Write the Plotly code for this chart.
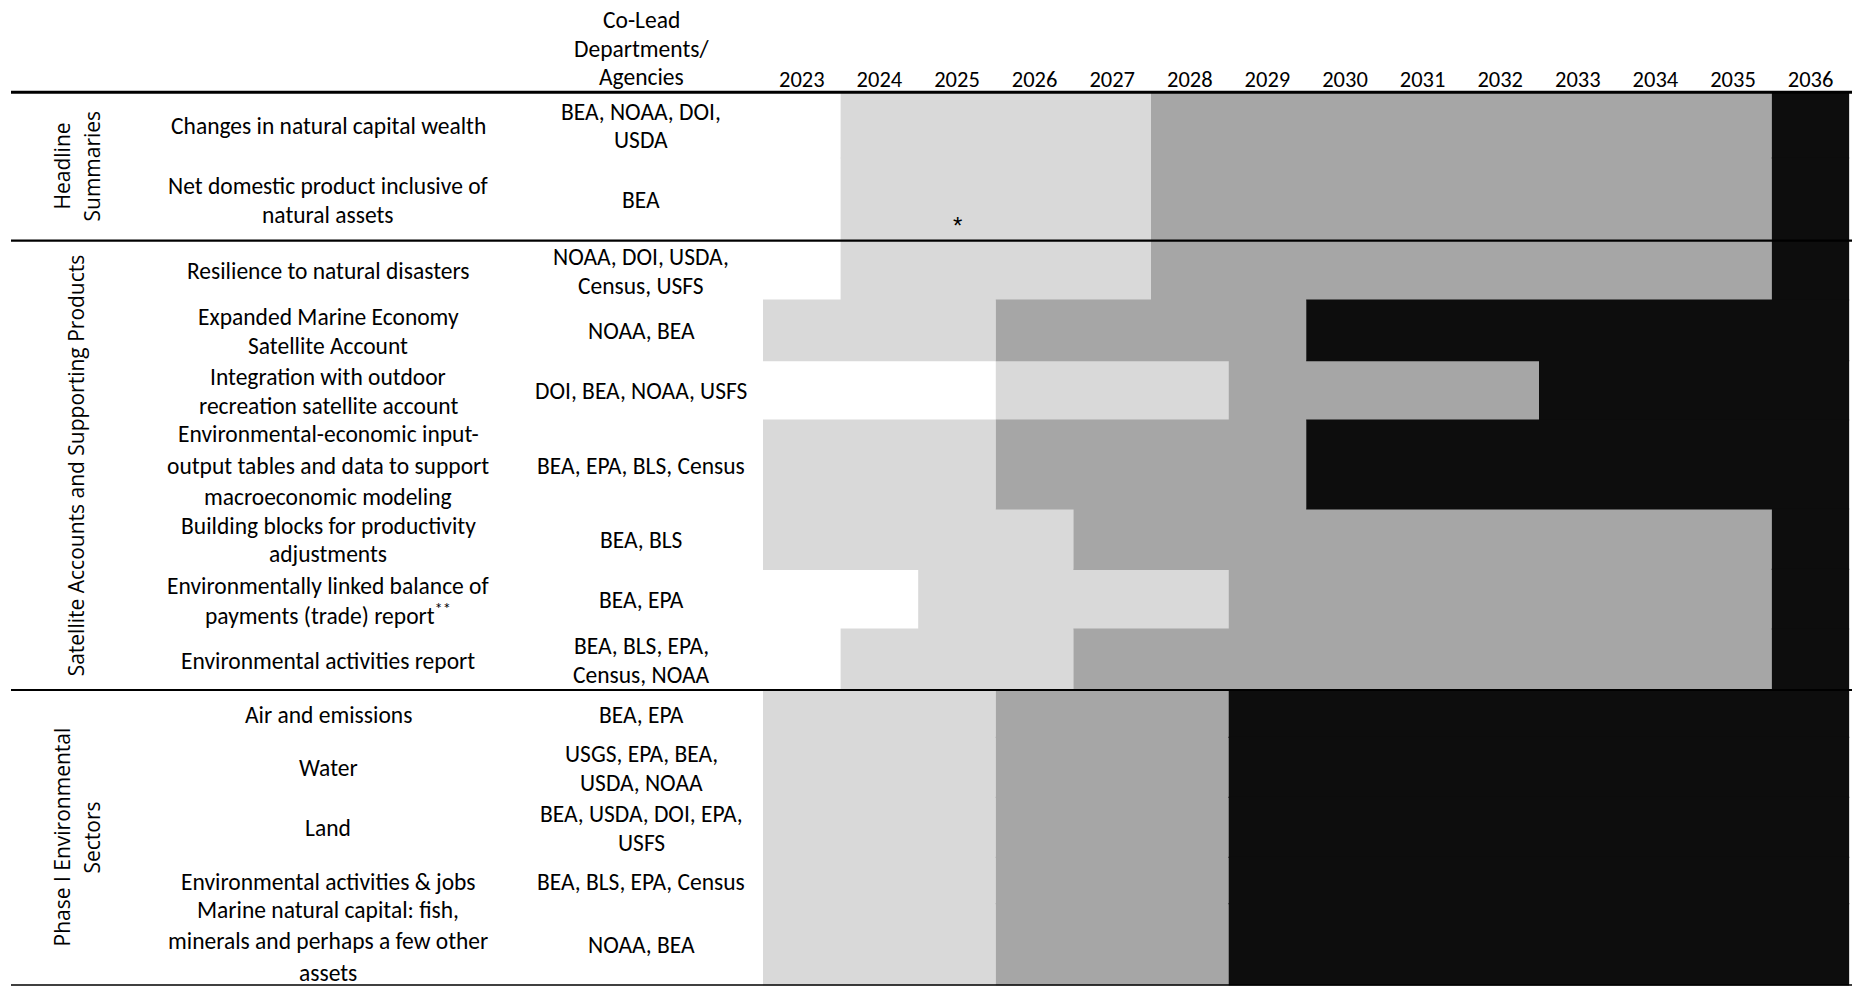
import plotly.graph_objects as go

# ---------------- data ----------------
years = list(range(2023, 2037))
year_labels = [str(y) for y in years]

sections = ["Headline<br>Summaries",
            "Satellite Accounts and Supporting Products",
            "Phase I Environmental<br>Sectors"]
section_rows = [[0, 1], [2, 3, 4, 5, 6, 7, 8], [9, 10, 11, 12, 13]]

items = [
    "Changes in natural capital wealth",
    "Net domestic product inclusive of<br>natural assets",
    "Resilience to natural disasters",
    "Expanded Marine Economy<br>Satellite Account",
    "Integration with outdoor<br>recreation satellite account",
    "Environmental-economic input-<br>output tables and data to support<br>macroeconomic modeling",
    "Building blocks for productivity<br>adjustments",
    "Environmentally linked balance of<br>payments (trade) report<sup>**</sup>",
    "Environmental activities report",
    "Air and emissions",
    "Water",
    "Land",
    "Environmental activities & jobs",
    "Marine natural capital: fish,<br>minerals and perhaps a few other<br>assets",
]
agencies = [
    "BEA, NOAA, DOI,<br>USDA",
    "BEA",
    "NOAA, DOI, USDA,<br>Census, USFS",
    "NOAA, BEA",
    "DOI, BEA, NOAA, USFS",
    "BEA, EPA, BLS, Census",
    "BEA, BLS",
    "BEA, EPA",
    "BEA, BLS, EPA,<br>Census, NOAA",
    "BEA, EPA",
    "USGS, EPA, BEA,<br>USDA, NOAA",
    "BEA, USDA, DOI, EPA,<br>USFS",
    "BEA, BLS, EPA, Census",
    "NOAA, BEA",
]
header_agency = "Co-Lead<br>Departments/<br>Agencies"

# first year of each phase per row (phase runs until the next phase starts)
light_start = [2024, 2024, 2024, 2023, 2026, 2023, 2023, 2025, 2024, 2023, 2023, 2023, 2023, 2023]
mid_start   = [2028, 2028, 2028, 2026, 2029, 2026, 2027, 2029, 2027, 2026, 2026, 2026, 2026, 2026]
dark_start  = [2036, 2036, 2036, 2030, 2033, 2030, 2036, 2036, 2036, 2029, 2029, 2029, 2029, 2029]
last_year = 2036
note_year = 2025   # asterisk note year (row 2)

# ---------------- layout constants ----------------
W, H = 1857, 986
X0, COLW = 763.0, 77.6
row_bounds = [92.3, 158, 240.7, 300, 360.7, 420, 509, 569.3, 629, 690,
              737.3, 797.3, 857.3, 903.7, 985]
LIGHT, MID, DARK = "#d9d9d9", "#a6a6a6", "#0d0d0d"
TXT_FONT = "Carlito, Lato, sans-serif"
SEC_FONT = "Open Sans, sans-serif"
FS = 23.5
LINE_H = 28.5
LINE_H3 = 31.5   # three-line cells are spaced a bit wider

centers = [(row_bounds[i] + row_bounds[i + 1]) / 2 for i in range(len(items))]
heights = [row_bounds[i + 1] - row_bounds[i] + 1.2 for i in range(len(items))]

def py(p):
    return 1 - p / H

def px(p):
    return p / W

fig = go.Figure()

def phase_bar(starts, ends, color, name):
    base = [s - 0.5 for s in starts]
    length = [e - s for s, e in zip(starts, ends)]
    fig.add_trace(go.Bar(
        orientation="h", y=centers, x=length, base=base, width=heights,
        marker=dict(color=color, line=dict(width=0)), name=name,
        showlegend=False, hoverinfo="skip"))

phase_bar(light_start, mid_start, LIGHT, "light")
phase_bar(mid_start, dark_start, MID, "mid")
phase_bar(dark_start, [last_year + 1] * len(items), DARK, "dark")

annotations = []

def add_text(text, xc, yc, size=FS, font=TXT_FONT, angle=0, spacing=None):
    lines = text.split("<br>")
    n = len(lines)
    if spacing is None:
        spacing = LINE_H3 if n >= 3 and angle == 0 and text != header_agency else LINE_H
    for k, ln in enumerate(lines):
        off = (k - (n - 1) / 2) * spacing
        if angle == 0:
            x, y = xc, yc + off
        else:
            x, y = xc + off, yc
        annotations.append(dict(
            text=ln, x=px(x), y=py(y), xref="paper", yref="paper",
            showarrow=False, xanchor="center", yanchor="middle",
            textangle=angle, font=dict(family=font, size=size, color="black")))

# header
add_text(header_agency, 641, 48.5, spacing=LINE_H)

# rows
for i in range(len(items)):
    yc = centers[i] + 1
    if i == len(items) - 1:
        yc = centers[i] - 3   # keep last line inside the page
    add_text(items[i], 328, yc)
    add_text(agencies[i], 641, centers[i] + 1)

# section labels
for s, rows in enumerate(section_rows):
    top = row_bounds[rows[0]]
    bot = row_bounds[rows[-1] + 1]
    add_text(sections[s], 76, (top + bot) / 2, size=21, font=SEC_FONT,
             angle=-90, spacing=30)

# asterisk note
annotations.append(dict(
    text="*", x=note_year, y=py(225), xref="x", yref="paper", showarrow=False,
    xanchor="center", yanchor="middle",
    font=dict(family="Liberation Sans, sans-serif", size=24, color="black")))

# rules
shapes = []
for yv, lw in [(row_bounds[0], 3), (row_bounds[2], 2.2), (row_bounds[9], 2.2), (row_bounds[-1], 1.5)]:
    shapes.append(dict(type="line", xref="paper", yref="paper",
                       x0=px(11), x1=px(1852), y0=py(yv), y1=py(yv),
                       line=dict(color="black", width=lw), layer="above"))

fig.update_layout(
    width=W, height=H, margin=dict(l=0, r=0, t=0, b=0, pad=0),
    paper_bgcolor="white", plot_bgcolor="white",
    barmode="overlay", showlegend=False,
    annotations=annotations, shapes=shapes,
    xaxis=dict(domain=[px(X0), px(X0 + COLW * len(years))],
               range=[years[0] - 0.5, years[-1] + 0.5],
               side="top", tickmode="array", tickvals=years, ticktext=year_labels,
               ticks="", showgrid=False, zeroline=False, showline=False,
               tickfont=dict(family=TXT_FONT, size=22.5, color="black"),
               automargin=False, fixedrange=True),
    yaxis=dict(domain=[0, py(row_bounds[0])], range=[H, row_bounds[0]],
               visible=False, showgrid=False, zeroline=False,
               automargin=False, fixedrange=True),
)

fig.write_html("out.html", config={"displayModeBar": False},
               post_script="document.body.style.margin='0';document.body.style.overflow='hidden';")
